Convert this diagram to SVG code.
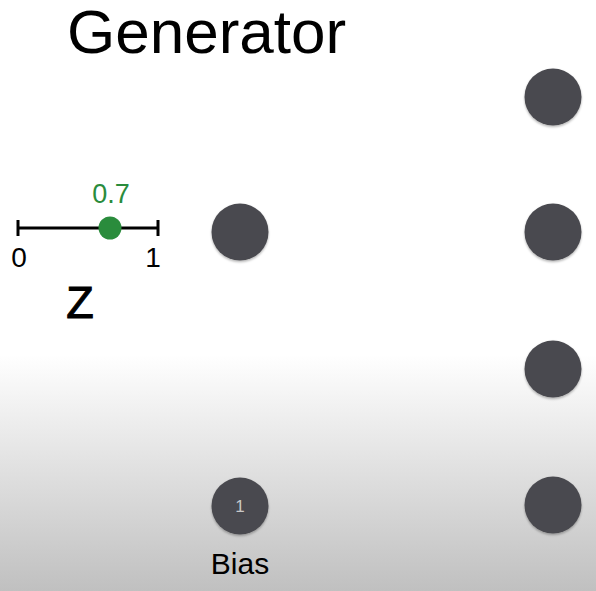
<svg xmlns="http://www.w3.org/2000/svg" width="596" height="591" viewBox="0 0 596 591">
<defs>
<linearGradient id="bg" x1="0" y1="0" x2="0" y2="1">
<stop offset="0" stop-color="#ffffff"/>
<stop offset="0.6" stop-color="#ffffff"/>
<stop offset="1" stop-color="#c0c0c0"/>
</linearGradient>
<filter id="sh" x="-30%" y="-30%" width="160%" height="160%">
<feDropShadow dx="0" dy="1.5" stdDeviation="1.2" flood-color="#000" flood-opacity="0.3"/>
</filter>
<style>
.node{fill:#4a4a4f;filter:url(#sh)}
.t{font-family:"Liberation Sans",Arial,sans-serif;fill:#000}
</style>
</defs>
<rect width="596" height="591" fill="url(#bg)"/>
<text class="t" x="67" y="53" font-size="62">Generator</text>
<g id="connectors"></g>
<g id="z-slider">
<line x1="18" y1="228" x2="158" y2="228" stroke="#000" stroke-width="3"/>
<line x1="18" y1="220" x2="18" y2="236" stroke="#000" stroke-width="3"/>
<line x1="158" y1="220" x2="158" y2="236" stroke="#000" stroke-width="3"/>
<circle cx="110" cy="228" r="11.5" fill="#2a8c3c"/>
<text x="111" y="203" font-size="27" text-anchor="middle" font-family="Liberation Sans,Arial,sans-serif" fill="#2a8c3c">0.7</text>
<text class="t" x="19" y="267" font-size="28" text-anchor="middle">0</text>
<text class="t" x="153" y="267" font-size="28" text-anchor="middle">1</text>
<text class="t" x="80" y="318" font-size="45" stroke="#000" stroke-width="1" text-anchor="middle">Z</text>
</g>
<g id="hidden"><circle class="node" cx="240" cy="232" r="28.5"/></g>
<g id="bias"><circle class="node" cx="240" cy="506" r="28.5"/>
<text x="240" y="512" font-size="17" text-anchor="middle" font-family="Liberation Sans,Arial,sans-serif" fill="#c8c8c8">1</text>
<text class="t" x="240" y="574" font-size="30" text-anchor="middle">Bias</text></g>
<g id="out1"><circle class="node" cx="553" cy="97" r="28.5"/></g>
<g id="out2"><circle class="node" cx="553" cy="232" r="28.5"/></g>
<g id="out3"><circle class="node" cx="553" cy="369" r="28.5"/></g>
<g id="out4"><circle class="node" cx="553" cy="505" r="28.5"/></g>
</svg>
